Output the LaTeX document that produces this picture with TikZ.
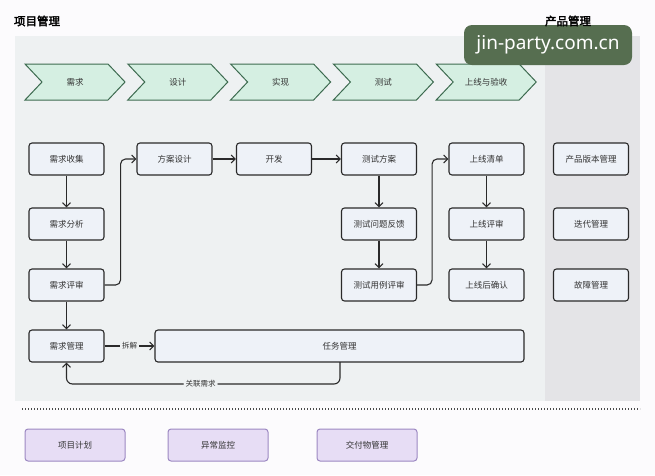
\documentclass[tikz,border=0pt]{standalone}
\usepackage{fontspec}
\newfontfamily\cjk[AutoFakeBold=2.5]{Noto Sans CJK SC}
\newfontfamily\wmfont{Noto Sans}
\usetikzlibrary{arrows.meta}
\definecolor{pagebg}{HTML}{FCFBFD}
\definecolor{panelbg}{HTML}{EEF1F2}
\definecolor{prodbg}{HTML}{E4E4E7}
\definecolor{chevfill}{HTML}{D5EFE2}
\definecolor{chevline}{HTML}{3D6B50}
\definecolor{boxfill}{HTML}{EEF2F8}
\definecolor{boxline}{HTML}{2A2A2A}
\definecolor{textc}{HTML}{333333}
\definecolor{purfill}{HTML}{E7DDF5}
\definecolor{purline}{HTML}{9C88C2}
\definecolor{wmbg}{HTML}{566E50}
\tikzset{
  box/.style={draw=boxline, fill=boxfill, rounded corners=3pt, line width=1.1pt,
    minimum width=75pt, minimum height=32pt, inner sep=0pt,
    font=\cjk\fontsize{8.5}{10}\selectfont, text=textc},
  pbox/.style={draw=purline, fill=purfill, rounded corners=3pt, line width=1pt,
    minimum width=100pt, minimum height=32pt, inner sep=0pt,
    font=\cjk\fontsize{8.5}{10}\selectfont, text=textc},
  chev/.style={draw=chevline, fill=chevfill, line width=1pt, line join=miter},
  chevtxt/.style={font=\cjk\fontsize{8.5}{10}\selectfont, text=textc},
  arr/.style={draw=boxline, line width=1.1pt, -{Straight Barb[length=4pt,width=8pt]}},
  lbl/.style={fill=panelbg, inner sep=2pt, font=\cjk\fontsize{7.5}{9}\selectfont, text=textc},
  ttl/.style={font=\cjk\bfseries\fontsize{11.5}{13}\selectfont, text=black}
}
\begin{document}
\begin{tikzpicture}[x=1pt,y=-1pt]
\useasboundingbox (0,0) rectangle (655,475);
\fill[pagebg] (0,0) rectangle (655,475);
% panels
\fill[panelbg] (15,36) rectangle (545,401);
\fill[prodbg] (545,36) rectangle (640,401);
% chevrons
\foreach \i/\t in {0/需求,1/设计,2/实现,3/测试,4/上线与验收}{
  \pgfmathsetmacro{\xo}{25+102.8*\i}
  \draw[chev] (\xo,64) -- ++(83,0) -- ++(17,18) -- ++(-17,18) -- ++(-83,0) -- ++(17,-18) -- cycle;
  \node[chevtxt] (c\i) at (\xo+50,82) {\t};
}
% boxes
\node[box] (rc) at (66.5,159) {需求收集};
\node[box] (ra) at (66.5,224) {需求分析};
\node[box] (rr) at (66.5,285) {需求评审};
\node[box] (rm) at (66.5,346) {需求管理};
\node[box] (fa) at (174.5,159) {方案设计};
\node[box] (kf) at (274,159) {开发};
\node[box] (tp) at (379,159) {测试方案};
\node[box] (tf) at (379,224) {测试问题反馈};
\node[box] (tr) at (379,285) {测试用例评审};
\node[box] (sl) at (486.5,159) {上线清单};
\node[box] (sr) at (486.5,224) {上线评审};
\node[box] (sc) at (486.5,285) {上线后确认};
\node[box] (pv) at (591,159) {产品版本管理};
\node[box] (pi) at (591,224) {迭代管理};
\node[box] (pf) at (591,285) {故障管理};
\node[box, minimum width=369pt] (task) at (339.5,346) {任务管理};
% arrows
\draw[arr] (rc) -- (ra);
\draw[arr] (ra) -- (rr);
\draw[arr] (rr) -- (rm);
\draw[arr, rounded corners=5pt] (rr.east) -- ++(16,0) |- (fa.west);
\draw[arr] (fa) -- (kf);
\draw[arr] (kf) -- (tp);
\draw[arr] (tp) -- (tf);
\draw[arr] (tf) -- (tr);
\draw[arr, rounded corners=5pt] (tr.east) -- ++(15,0) |- (sl.west);
\draw[arr] (sl) -- (sr);
\draw[arr] (sr) -- (sc);
\draw[arr] (rm) -- node[lbl] {拆解} (task);
\coordinate (tret) at (340,362);
\draw[arr, rounded corners=6pt] (tret) -- (340,384) -- node[lbl, pos=0.51] {关联需求} (66.5,384) -- (rm.south);
% dotted separator
\draw[color=boxline!85, line width=1.2pt, dash pattern=on 1.4pt off 1.6pt] (22,409) -- (640,409);
% bottom boxes
\node[pbox] (p1) at (75,445) {项目计划};
\node[pbox] (p2) at (218,445) {异常监控};
\node[pbox] (p3) at (367,445) {交付物管理};
% watermark
\node[fill=wmbg, rounded corners=8pt, minimum width=168pt, minimum height=40pt, inner sep=0pt,
  text=white, font=\wmfont\fontsize{19}{22}\selectfont] (wm) at (548,45) {jin-party.com.cn};
% titles
\node[ttl] (t1) at (37,21) {项目管理};
\node[ttl] (t2) at (568,21) {产品管理};
\end{tikzpicture}
\end{document}
